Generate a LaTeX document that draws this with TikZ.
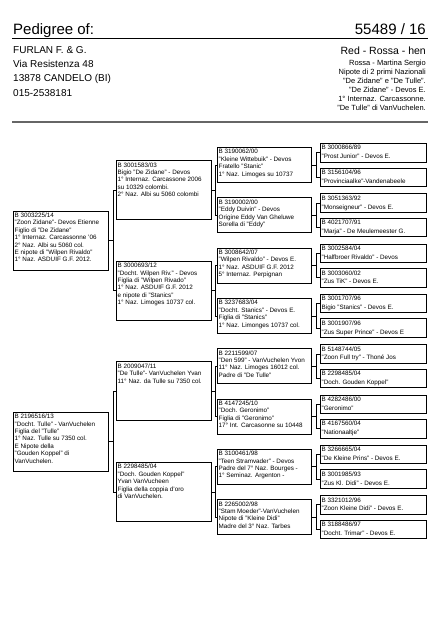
\documentclass[tikz,border=0pt]{standalone}
\usepackage{fontspec}
\setmainfont{Liberation Sans}
\tikzset{
  boxst/.style={draw=black, line width=0.8pt, inner sep=0pt, rectangle, fill=white},
  txtst/.style={inner sep=0pt, align=left, font=\fontsize{6.3}{7.4}\selectfont},
  txtfour/.style={inner sep=0pt, align=left, font=\fontsize{6.3}{8.8}\selectfont},
  link/.style={draw=black, line width=0.6pt},
  addr/.style={inner sep=0pt, anchor=base west, font=\fontsize{10}{12}\selectfont},
  info/.style={inner sep=0pt, anchor=base east, font=\fontsize{7.5}{9}\selectfont},
}
\newcommand\pedbox[7]{%
  \node[boxst, minimum width=#5pt, minimum height=#6pt, anchor=north west] (#1) at (#3,#4) {};
  \node[#2, anchor=north west] (#1t) at ([xshift=1.5pt,yshift=-2.2pt]#1.north west) {#7};
}
\begin{document}
\begin{tikzpicture}[x=1pt,y=-1pt]
\fill[white] (0,0) rectangle (439,622);
\useasboundingbox (0,0) rectangle (439,622);

% header
\node[inner sep=0pt, anchor=base west, font=\fontsize{15}{18}\selectfont] (title) at (13,34) {Pedigree of:};
\node[inner sep=0pt, anchor=base east, font=\fontsize{15}{18}\selectfont] (ring) at (426,34) {55489 / 16};
\draw[line width=0.9pt] (12,38) coordinate (r1a) -- (428,38) coordinate (r1b);
\node[addr] (a1) at (13,53) {FURLAN F. \& G.};
\node[addr] (a2) at (13,67) {Via Resistenza 48};
\node[addr] (a3) at (13,81.5) {13878 CANDELO (BI)};
\node[addr] (a4) at (13,96) {015-2538181};
\node[inner sep=0pt, anchor=base east, font=\fontsize{10.5}{12}\selectfont] (sex) at (426,54.3) {Red - Rossa - hen};
\node[info] (i1) at (426,65.3) {Rossa - Martina Sergio};
\node[info] (i2) at (426,74.3) {Nipote di 2 primi Nazionali};
\node[info] (i3) at (426,83.3) {"De Zidane" e "De Tulle".};
\node[info] (i4) at (426,92.3) {"De Zidane" - Devos E.};
\node[info] (i5) at (426,101.3) {1° Internaz. Carcassonne.};
\node[info] (i6) at (426,110.3) {"De Tulle" di VanVuchelen.};
\draw[line width=1.3pt, black!60] (12,122) coordinate (r2a) -- (428,122) coordinate (r2b);

% generation 1
\pedbox{c1a}{txtst}{13}{210.5}{95}{59}{B 3003225/14\\"Zoon Zidane"- Devos Etienne\\Figlio di "De Zidane"\\1° Internaz. Carcassonne '06\\2° Naz. Albi su 5060 col.\\E nipote di "Wilpen Rivaldo"\\1° Naz. ASDUIF G.F. 2012.}
\pedbox{c1b}{txtst}{13}{411.7}{95}{59}{B 2196516/13\\"Docht. Tulle" - VanVuchelen\\Figlia del "Tulle"\\1° Naz. Tulle su 7350 col.\\E Nipote della\\"Gouden Koppel" di\\VanVuchelen.}

% generation 2
\pedbox{c2a}{txtst}{116}{160.2}{95}{59}{B 3001583/03\\Bigio "De Zidane" - Devos\\1° Internaz. Carcassone 2006\\su 10329 colombi.\\2° Naz. Albi su 5060 colombi}
\pedbox{c2b}{txtst}{116}{260.8}{95}{59}{B 3000693/12\\"Docht. Wilpen Riv." - Devos\\Figlia di "Wilpen Rivado"\\1° Naz. ASDUIF G.F. 2012\\e nipote di "Stanics"\\1° Naz. Limoges 10737 col.}
\pedbox{c2c}{txtst}{116}{361.4}{95}{59}{B 2009047/11\\"De Tulle"- VanVuchelen Yvan\\11° Naz. da Tulle su 7350 col.}
\pedbox{c2d}{txtst}{116}{462.0}{95}{59}{B 2298485/04\\"Doch. Gouden Koppel"\\Yvan VanVucheen\\Figlia della coppia d'oro\\di VanVuchelen.}

% generation 3
\pedbox{c3a}{txtst}{217}{147.0}{94}{35}{B 3190062/00\\"Kleine Wittebuik" - Devos\\Fratello "Stanic"\\1° Naz. Limoges su 10737}
\pedbox{c3b}{txtst}{217}{197.3}{94}{35}{B 3190002/00\\"Eddy Duivin" - Devos\\Origine Eddy Van Gheluwe\\Sorella di "Eddy"}
\pedbox{c3c}{txtst}{217}{247.6}{94}{35}{B 3008642/07\\"Wilpen Rivaldo" - Devos E.\\1° Naz. ASDUIF G.F. 2012\\5° Internaz. Perpignan}
\pedbox{c3d}{txtst}{217}{297.9}{94}{35}{B 3237683/04\\"Docht. Stanics" - Devos E.\\Figlia di "Stanics"\\1° Naz. Limonges 10737 col.}
\pedbox{c3e}{txtst}{217}{348.2}{94}{35}{B 2211599/07\\"Den 599" - VanVuchelen Yvon\\11° Naz. Limoges 16012 col.\\Padre di "De Tulle"}
\pedbox{c3f}{txtst}{217}{398.5}{94}{35}{B 4147245/10\\"Doch. Geronimo"\\Figlia di "Geronimo"\\17° Int. Carcasonne su 10448}
\pedbox{c3g}{txtst}{217}{448.8}{94}{35}{B 3100461/98\\"Teen Stramvader" - Devos\\Padre del 7° Naz. Bourges -\\1° Seminaz. Argenton -}
\pedbox{c3h}{txtst}{217}{499.1}{94}{35}{B 2265002/98\\"Stam Moeder"-VanVuchelen\\Nipote di "Kleine Didi"\\Madre del 3° Naz. Tarbes}

% generation 4
\pedbox{c4a}{txtfour}{320}{143.0}{106}{18.5}{B 3000866/89\\"Prost Junior" - Devos E.}
\pedbox{c4b}{txtfour}{320}{167.5}{106}{18.5}{B 3156104/96\\"Provinciaalke"-Vandenabeele}
\pedbox{c4c}{txtfour}{320}{193.3}{106}{18.5}{B 3051363/92\\"Monseigneur" - Devos E.}
\pedbox{c4d}{txtfour}{320}{217.8}{106}{18.5}{B 4021707/91\\"Marja" - De Meulemeester G.}
\pedbox{c4e}{txtfour}{320}{243.6}{106}{18.5}{B 3002584/04\\"Halfbroer Rivaldo" - Devos}
\pedbox{c4f}{txtfour}{320}{268.1}{106}{18.5}{B 3003060/02\\"Zus TiK" - Devos E.}
\pedbox{c4g}{txtfour}{320}{293.9}{106}{18.5}{B 3001707/96\\Bigio "Stanics" - Devos E.}
\pedbox{c4h}{txtfour}{320}{318.4}{106}{18.5}{B 3001907/96\\"Zus Super Prince" - Devos E}
\pedbox{c4i}{txtfour}{320}{344.2}{106}{18.5}{B 5148744/05\\"Zoon Full try" - Thoné Jos}
\pedbox{c4j}{txtfour}{320}{368.7}{106}{18.5}{B 2298485/04\\"Doch. Gouden Koppel"}
\pedbox{c4k}{txtfour}{320}{394.5}{106}{18.5}{B 4282486/00\\"Geronimo"}
\pedbox{c4l}{txtfour}{320}{419.0}{106}{18.5}{B 4167560/04\\"Nationaaltje"}
\pedbox{c4m}{txtfour}{320}{444.8}{106}{18.5}{B 3266665/04\\"De Kleine Prins" - Devos E.}
\pedbox{c4n}{txtfour}{320}{469.3}{106}{18.5}{B 3001985/93\\"Zus Kl. Didi" - Devos E.}
\pedbox{c4o}{txtfour}{320}{495.1}{106}{18.5}{B 3321012/96\\"Zoon Kleine Didi" - Devos E.}
\pedbox{c4p}{txtfour}{320}{519.6}{106}{18.5}{B 3188486/97\\"Docht. Trimar" - Devos E.}

% connectors
\foreach \p/\a/\b in {c1a/c2a/c2b, c1b/c2c/c2d}{
  \draw[link] (\p.east) -- ++(4,0) |- (\a.west);
  \draw[link] (\p.east) -- ++(4,0) |- (\b.west);
}
\foreach \p/\a/\b in {c2a/c3a/c3b, c2b/c3c/c3d, c2c/c3e/c3f, c2d/c3g/c3h}{
  \draw[link] (\p.east) -- ++(3,0) |- (\a.west);
  \draw[link] (\p.east) -- ++(3,0) |- (\b.west);
}
\foreach \p/\a/\b in {c3a/c4a/c4b, c3b/c4c/c4d, c3c/c4e/c4f, c3d/c4g/c4h, c3e/c4i/c4j, c3f/c4k/c4l, c3g/c4m/c4n, c3h/c4o/c4p}{
  \draw[link] (\p.east) -- ++(4.5,0) |- (\a.west);
  \draw[link] (\p.east) -- ++(4.5,0) |- (\b.west);
}
\end{tikzpicture}
\end{document}
